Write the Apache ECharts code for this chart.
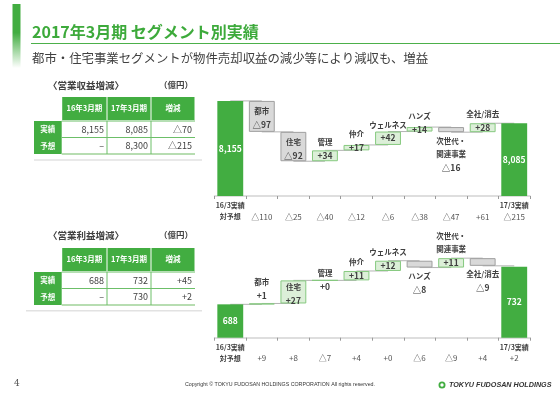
<!DOCTYPE html>
<html>
<head>
<meta charset="utf-8">
<script src="https://cdn.jsdelivr.net/npm/echarts@6/dist/echarts.min.js"></script>
<style>
html, body { margin: 0; padding: 0; background: #fff; }
#main { width: 560px; height: 396px; }
</style>
</head>
<body>
<div id="main"></div>
<script>
var FONT = '"Noto Sans CJK JP", sans-serif';
var GREEN = '#42ad41';
var TEXT = '#404040';

// 営業収益 (億円)
var revNames = ['16/3実績', '都市', '住宅', '管理', '仲介', 'ウェルネス', 'ハンズ', '次世代・\n関連事業', '全社/消去', '17/3実績'];
var revStart = 8155;
var revDelta = [-97, -92, 34, 17, 42, 14, -16, 28];
var revEnd = 8085;
var revVsPlan = ['対予想', '△110', '△25', '△40', '△12', '△6', '△38', '△47', '+61', '△215'];

// 営業利益 (億円)
var opNames = ['16/3実績', '都市', '住宅', '管理', '仲介', 'ウェルネス', 'ハンズ', '次世代・\n関連事業', '全社/消去', '17/3実績'];
var opStart = 688;
var opDelta = [1, 27, 0, 11, 12, -8, 11, -9];
var opEnd = 732;
var opVsPlan = ['対予想', '+9', '+8', '△7', '+4', '+0', '△6', '△9', '+4', '+2'];

// tables
var tableHead = ['16年3月期', '17年3月期', '増減'];
var tableRowNames = ['実績', '予想'];
var revTable = [['8,155', '8,085', '△70'], ['–', '8,300', '△215']];
var opTable = [['688', '732', '+45'], ['–', '730', '+2']];

function fmtDelta(d) {
    return d < 0 ? '△' + (-d) : '+' + d;
}
function fmtNum(v) {
    return String(v).replace(/\B(?=(\d{3})+(?!\d))/g, ',');
}

var richLab = {
    n: { fontFamily: FONT, fontSize: 7.5, fontWeight: 'bold', color: TEXT, lineHeight: 13.5 },
    v: { fontFamily: FONT, fontSize: 8.5, fontWeight: 'bold', color: TEXT, lineHeight: 13.5 }
};

// waterfall: base (transparent) + visible box, stacked
function waterfall(names, start, deltas, end, idx, range) {
    var base = [], box = [], links = [];
    var level = start;
    base.push(0);
    box.push({ value: start, itemStyle: { color: GREEN, borderWidth: 0 },
        label: { show: true, position: 'inside', color: '#fff', fontSize: 8.5, fontWeight: 'bold', fontFamily: FONT,
            formatter: fmtNum(start) } });
    links.push([0, start]);
    deltas.forEach(function (d, i) {
        var next = level + d;
        var name = names[i + 1];
        var nLines = name.split('\n').length;
        var txt = '{n|' + name.split('\n').join('}\n{n|') + '}\n{v|' + fmtDelta(d) + '}';
        var frac = Math.abs(d) / range;
        var lab = { show: true, formatter: txt, rich: richLab };
        if (d === 0) {
            lab.position = 'inside';
        } else if (frac > 0.2) {
            lab.position = 'inside'; lab.offset = [0, 2];
        } else if (d > 0 && frac < 0.02) {
            lab.position = 'top'; lab.distance = 1;
        } else if (d > 0) {
            lab.position = 'inside'; lab.offset = [0, -nLines * 13.5 / 2];
        } else {
            lab.position = 'bottom'; lab.distance = 2;
        }
        base.push(Math.min(level, next));
        box.push({ value: Math.abs(d),
            itemStyle: d >= 0 ? { color: '#dcefd8', borderColor: '#86c97f', borderWidth: 1 }
                              : { color: '#d9d9d9', borderColor: '#9f9f9f', borderWidth: 1 },
            label: lab });
        level = next;
        links.push([i + 1, level]);
    });
    base.push(0);
    box.push({ value: end, itemStyle: { color: GREEN, borderWidth: 0 },
        label: { show: true, position: 'inside', color: '#fff', fontSize: 8.5, fontWeight: 'bold', fontFamily: FONT,
            formatter: fmtNum(end) } });

    return [
        {
            type: 'custom', xAxisIndex: idx, yAxisIndex: idx, z: 1, silent: true,
            data: links.slice(0, names.length - 1),
            renderItem: function (params, api) {
                var p = api.coord([api.value(0), api.value(1)]);
                var band = api.size([1, 0])[0];
                return { type: 'line', shape: { x1: p[0], y1: p[1], x2: p[0] + band, y2: p[1] },
                    style: { stroke: '#a0a0a0', lineWidth: 0.8 } };
            }
        },
        { type: 'bar', xAxisIndex: idx, yAxisIndex: idx, stack: 'w' + idx, barWidth: '82%', z: 2,
          itemStyle: { color: 'transparent' }, data: base, silent: true },
        { type: 'bar', xAxisIndex: idx, yAxisIndex: idx, stack: 'w' + idx, barWidth: '82%', z: 3,
          data: box }
    ];
}

function xAxisFor(names, vsPlan, idx) {
    return {
        type: 'category', gridIndex: idx, data: names,
        axisLine: { onZero: false, lineStyle: { color: '#d4d4d4', width: 1.5 } },
        axisTick: { show: true, interval: 0, length: 3, lineStyle: { color: '#9a9a9a' } },
        axisLabel: {
            interval: 0, margin: 4,
            formatter: function (v, i) {
                var top = (i === 0 || i === names.length - 1) ? names[i] : ' ';
                return '{a|' + top + '}\n{' + (i === 0 ? 'a' : 'b') + '|' + vsPlan[i] + '}';
            },
            rich: {
                a: { fontFamily: FONT, fontSize: 7, fontWeight: 'bold', color: TEXT, lineHeight: 11 },
                b: { fontFamily: FONT, fontSize: 8, color: '#555', lineHeight: 11 }
            }
        }
    };
}

function yAxisFor(idx, min, max) {
    return { type: 'value', gridIndex: idx, min: min, max: max, show: false, splitLine: { show: false } };
}

// table as graphic
function table(hy, rows) {
    var cols = [34, 61.7, 107, 151, 195];
    var hH = 23, rH = 16.5;
    var els = [];
    for (var c = 0; c < 3; c++) {
        els.push({ type: 'rect', shape: { x: cols[c + 1] + 0.5, y: hy, width: cols[c + 2] - cols[c + 1] - 1, height: hH },
            style: { fill: GREEN } });
        els.push({ type: 'text', x: (cols[c + 1] + cols[c + 2]) / 2, y: hy + hH / 2,
            style: { text: tableHead[c], fill: '#fff', fontFamily: FONT, fontSize: 7.5, fontWeight: 'bold',
                align: 'center', verticalAlign: 'middle' } });
    }
    var ry = hy + hH + 1;
    els.push({ type: 'rect', shape: { x: cols[0], y: ry, width: cols[1] - cols[0], height: rH * 2 }, style: { fill: GREEN } });
    els.push({ type: 'line', shape: { x1: cols[1], y1: ry, x2: cols[4], y2: ry }, style: { stroke: '#6cbf68', lineWidth: 1 } });
    els.push({ type: 'line', shape: { x1: cols[1], y1: ry + rH, x2: cols[4], y2: ry + rH }, style: { stroke: '#6cbf68', lineWidth: 1 } });
    els.push({ type: 'line', shape: { x1: cols[1], y1: ry + rH * 2, x2: cols[4], y2: ry + rH * 2 }, style: { stroke: '#b7ddb1', lineWidth: 2 } });
    [2, 3].forEach(function (k) {
        els.push({ type: 'line', shape: { x1: cols[k], y1: ry, x2: cols[k], y2: ry + rH * 2 }, style: { stroke: '#6cbf68', lineWidth: 1 } });
    });
    rows.forEach(function (row, r) {
        var cy = ry + rH * r + rH / 2;
        els.push({ type: 'text', x: (cols[0] + cols[1]) / 2, y: cy,
            style: { text: tableRowNames[r], fill: '#fff', fontFamily: FONT, fontSize: 7.5, fontWeight: 'bold',
                align: 'center', verticalAlign: 'middle' } });
        row.forEach(function (cell, c) {
            els.push({ type: 'text', x: cols[c + 2] - 3, y: cy,
                style: { text: cell, fill: TEXT, fontFamily: FONT, fontSize: 9, align: 'right', verticalAlign: 'middle' } });
        });
    });
    return els;
}

function txt(x, y, s, size, opts) {
    opts = opts || {};
    return { type: 'text', x: x, y: y, style: { text: s, fill: opts.fill || TEXT, fontFamily: opts.font || FONT,
        fontSize: size, fontWeight: opts.weight || 'normal', fontStyle: opts.style || 'normal',
        align: opts.align || 'left', verticalAlign: 'middle' } };
}

var graphics = [
    { type: 'rect', shape: { x: 12.5, y: 4, width: 8, height: 64 },
      style: { fill: new echarts.graphic.LinearGradient(0, 0, 0, 1, [
          { offset: 0, color: GREEN }, { offset: 0.45, color: GREEN }, { offset: 1, color: 'rgba(66,173,65,0)' }]) } },
    txt(32, 31.5, '2017年3月期 セグメント別実績', 16, { fill: '#3daa3b', weight: 'bold' }),
    { type: 'line', shape: { x1: 31, y1: 43.5, x2: 560, y2: 43.5 }, style: { stroke: '#4cb04a', lineWidth: 1.2 } },
    txt(32, 58.5, '都市・住宅事業セグメントが物件売却収益の減少等により減収も、増益', 12.4, { fill: '#404040' }),

    txt(48, 85, '〈営業収益増減〉', 9.5, { weight: 'bold' }),
    txt(159, 85, '（億円）', 8.5, { weight: 'bold' }),
    { type: 'line', shape: { x1: 34, y1: 160, x2: 202, y2: 160 }, style: { stroke: '#e2e2e2', lineWidth: 1.5 } },
    txt(48, 235, '〈営業利益増減〉', 9.5, { weight: 'bold' }),
    txt(159, 235, '（億円）', 8.5, { weight: 'bold' }),
    { type: 'line', shape: { x1: 26, y1: 310.7, x2: 202, y2: 310.7 }, style: { stroke: '#e2e2e2', lineWidth: 1.5 } },

    txt(14, 383.5, '4', 9, { fill: '#555', font: '"DejaVu Serif", serif' }),
    txt(280, 385, 'Copyright © TOKYU FUDOSAN HOLDINGS CORPORATION All rights reserved.', 5.3, { align: 'center', font: 'Arial, "Liberation Sans", sans-serif', fill: '#333' }),
    { type: 'circle', shape: { cx: 442, cy: 385, r: 2.6 }, style: { fill: '#fff', stroke: GREEN, lineWidth: 1.8 } },
    txt(449, 385, 'TOKYU FUDOSAN HOLDINGS', 7.2, { weight: 'bold', style: 'italic', fill: '#333', font: '"Liberation Sans", Arial, sans-serif' })
].concat(table(97, revTable)).concat(table(248, opTable));

var myChart = echarts.init(document.getElementById('main'));
var option = {
    animation: false,
    backgroundColor: '#fff',
    grid: [
        { left: 214.5, width: 315.5, top: 90.7, height: 105.3 },
        { left: 214.5, width: 315.5, top: 243.6, height: 94.1 }
    ],
    xAxis: [xAxisFor(revNames, revVsPlan, 0), xAxisFor(opNames, opVsPlan, 1)],
    yAxis: [yAxisFor(0, 7857, 8187), yAxisFor(1, 649, 759)],
    series: waterfall(revNames, revStart, revDelta, revEnd, 0, 330)
        .concat(waterfall(opNames, opStart, opDelta, opEnd, 1, 110)),
    graphic: { elements: graphics }
};
myChart.setOption(option);
</script>
</body>
</html>
